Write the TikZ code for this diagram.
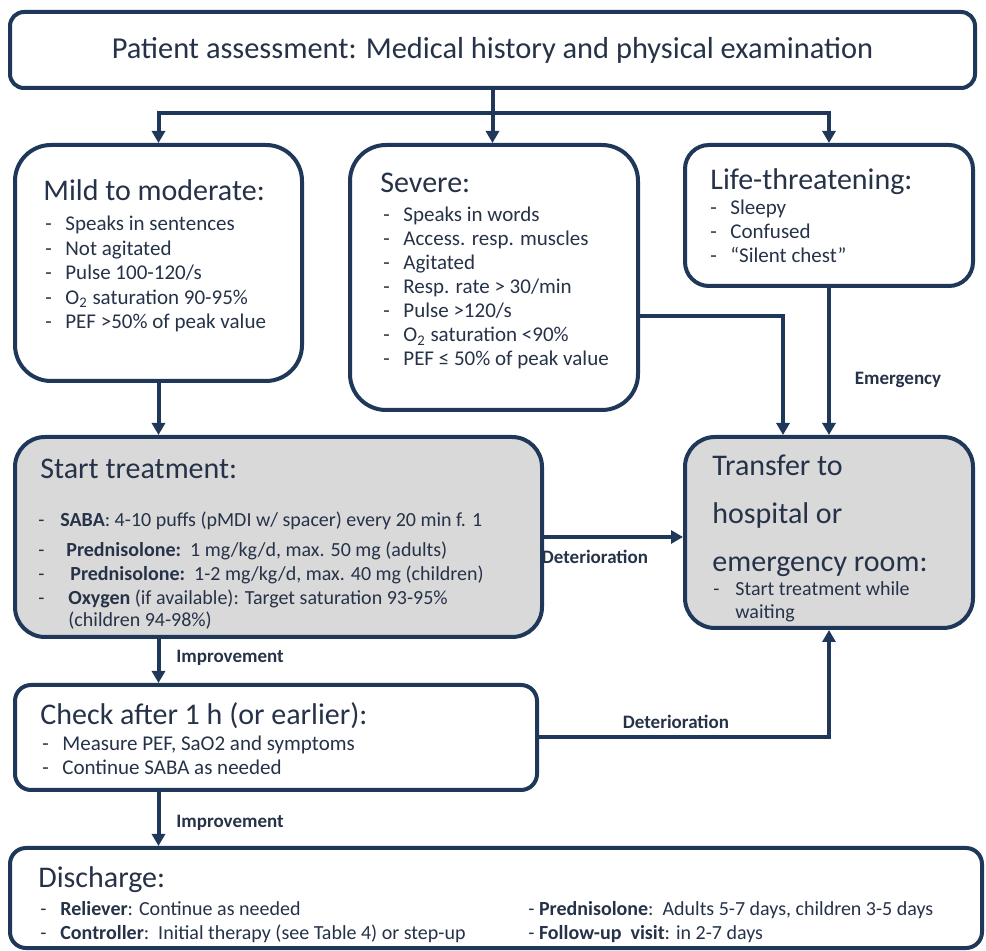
\documentclass[tikz,border=0pt]{standalone}
\usepackage{fontspec}
\setmainfont{Carlito}
\usetikzlibrary{arrows.meta,positioning}
\definecolor{navy}{RGB}{31,56,90}
\definecolor{ink}{RGB}{38,50,72}
\definecolor{shade}{RGB}{217,217,217}
\newcommand{\dashitem}[1][10pt]{\makebox[#1][l]{-}}

\begin{document}
\begin{tikzpicture}[x=0.5pt,y=-0.5pt]
	\tikzstyle{box} = [rectangle, draw=navy, line width=2pt, fill=white, inner sep=0pt]
	\tikzstyle{grey} = [box, fill=shade]
	\tikzstyle{head} = [anchor=base west, inner sep=0pt, text=ink, font=\fontsize{15}{18}\selectfont]
	\tikzstyle{list} = [anchor=base west, inner sep=0pt, align=left, text=ink, font=\fontsize{10.5}{12.25}\selectfont]
	\tikzstyle{line} = [draw=navy, line width=2pt]
	\tikzstyle{arrow} = [line, -{Triangle[length=6pt,width=6.5pt]}]
	\tikzstyle{tag} = [inner sep=0pt, text=ink, font=\fontsize{9.5}{11}\selectfont\bfseries]
	\useasboundingbox (0,0) rectangle (986,951);
	% boxes
	\node (assess) [box, rounded corners=7pt, minimum width=482.5pt, minimum height=38pt, text=ink, font=\fontsize{15.2}{18}\selectfont] at (492.5,50) {Patient assessment: Medical history and physical examination};
	\node (mild) [box, rounded corners=18pt, minimum width=143.5pt, minimum height=118pt] at (158.5,263) {};
	\node (severe) [box, rounded corners=18pt, minimum width=144pt, minimum height=132.5pt] at (494,277.5) {};
	\node (life) [box, rounded corners=12pt, minimum width=144pt, minimum height=70.5pt] at (829,215.5) {};
	\node (treat) [grey, rounded corners=15pt, minimum width=263.5pt, minimum height=100pt] at (278.5,537) {};
	\node (transfer) [grey, rounded corners=15pt, minimum width=144pt, minimum height=95.5pt] at (829,532.5) {};
	\node (check) [box, rounded corners=8pt, minimum width=261pt, minimum height=52.5pt] at (276,737.5) {};
	\node (discharge) [box, rounded corners=8pt, minimum width=486pt, minimum height=50pt] at (496,898) {};
	% texts (lists sit on the baseline of their last line)
	\node (mildhead) [head] at (43,201) {Mild to moderate:};
	\node (mildlist) [list] at (45,329) {\dashitem Speaks in sentences\\ \dashitem Not agitated\\ \dashitem Pulse 100-120/s\\ \dashitem O\textsubscript{2} saturation 90-95\%\\ \dashitem PEF >50\% of peak value};
	\node (sevhead) [head] at (380,193) {Severe:};
	\node (sevlist) [list, font=\fontsize{10.5}{12}\selectfont] at (383,366) {\dashitem Speaks in words\\ \dashitem Access. resp. muscles\\ \dashitem Agitated\\ \dashitem Resp. rate > 30/min\\ \dashitem Pulse >120/s\\ \dashitem O\textsubscript{2} saturation <90\%\\ \dashitem PEF ≤ 50\% of peak value};
	\node (lifehead) [head] at (710,190) {Life-threatening:};
	\node (lifelist) [list, font=\fontsize{10.5}{12}\selectfont] at (710,263) {\dashitem Sleepy\\ \dashitem Confused\\ \dashitem “Silent chest”};
	\node (treathead) [head] at (40,479) {Start treatment:};
	\node (treatlist) [list, font=\fontsize{10}{12}\selectfont] at (38,627) {\dashitem[11pt]\textbf{SABA}: 4-10 puffs (pMDI w/ spacer) every 20 min f. 1\\[3pt]
		\dashitem[14pt]\textbf{Prednisolone:}\ \ 1 mg/kg/d, max. 50 mg (adults)\\
		\dashitem[16pt]\textbf{Prednisolone:}\ \ 1-2 mg/kg/d, max. 40 mg (children)\\
		\dashitem[15pt]\textbf{Oxygen} (if available): Target saturation 93-95\%\\[-1pt]
		\hspace{15pt}(children 94-98\%)};
	\node (transhead) [head, align=left, font=\fontsize{15}{24}\selectfont] at (712,572) {Transfer to\\ hospital or\\ emergency room:};
	\node (translist) [list, font=\fontsize{10}{11.5}\selectfont] at (713,619) {\dashitem[11pt]Start treatment while\\ \hspace{11pt}waiting};
	\node (checkhead) [head] at (40,725) {Check after 1 h (or earlier):};
	\node (checklist) [list] at (42,775) {\dashitem Measure PEF, SaO2 and symptoms\\ \dashitem Continue SABA as needed};
	\node (dischead) [head] at (38,887) {Discharge:};
	\node (disclist) [list, font=\fontsize{10}{12}\selectfont] at (40,939) {\dashitem\textbf{Reliever}: Continue as needed\\ \dashitem\textbf{Controller}:\ \ Initial therapy (see Table 4) or step-up};
	\node (disclist2) [list, font=\fontsize{10}{12}\selectfont] at (528,939) {- \textbf{Prednisolone}:\ \ Adults 5-7 days, children 3-5 days\\ - \textbf{Follow-up\ \ visit}: in 2-7 days};
	% connectors
	\coordinate (fork) at (492.5,113);
	\draw [line] (assess.south) -- (fork);
	\draw [arrow] (fork) -| (mild.north);
	\draw [arrow] (fork) -- (fork |- severe.north);
	\draw [arrow] (fork) -| (life.north);
	\draw [arrow] (mild.south) -- (mild.south |- treat.north);
	\draw [arrow] (severe.east |- 0,316) -| ([xshift=-23pt]transfer.north);
	\draw [arrow] (life.south) -- (life.south |- transfer.north);
	\node (emerg) [tag] at (898,380) {Emergency};
	\draw [arrow] (treat.east) -- (treat.east -| transfer.west);
	\node (det1) [tag] at (595,557) {Deterioration};
	\draw [arrow] (mild.south |- treat.south) -- (mild.south |- check.north);
	\node (imp1) [tag] at (230,658) {Improvement};
	\draw [arrow] (check.east) -| (transfer.south);
	\node (det2) [tag] at (676,722) {Deterioration};
	\draw [arrow] (mild.south |- check.south) -- (mild.south |- discharge.north);
	\node (imp2) [tag] at (230,823) {Improvement};
\end{tikzpicture}
\end{document}
